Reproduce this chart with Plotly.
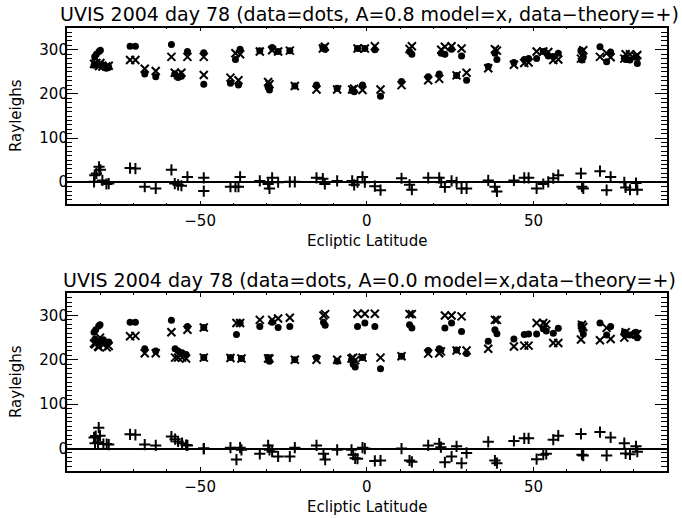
import plotly.graph_objects as go

W, H = 682, 518

# ---- top panel: A = 0.8 ----
lat_a = [-81.6, -81.1, -80.3, -79.9, -81.8, -79.3, -78.1, -77.4, -71.0, -69.4,
         -66.6, -63.3, -58.6, -57.6, -56.6, -55.6, -53.8, -48.9, -48.9, -40.9,
         -39.4, -38.5, -38.0, -32.1, -29.6, -29.2, -28.4, -26.6, -23.1, -21.6,
         -15.1, -13.2, -12.6, -8.9, -4.4, -3.8, -2.8, -1.3, -0.6, 2.4,
         4.1, 10.4, 12.8, 13.5, 18.4, 21.7, 22.3, 23.4, 25.4, 26.9,
         28.4, 29.9, 36.4, 38.4, 39.0, 44.1, 47.2, 48.5, 50.9, 52.9,
         54.4, 55.9, 57.4, 64.2, 64.5, 64.9, 69.9, 71.9, 73.1, 77.2,
         77.6, 78.9, 80.7, 81.1]
data_a = [284, 290, 296, 299, 265, 266, 258, 261, 308, 308,
          245, 239, 312, 245, 237, 240, 296, 293, 222, 224,
          278, 220, 301, 298, 215, 209, 305, 296, 298, 218,
          220, 306, 301, 213, 208, 205, 303, 220, 303, 300,
          195, 228, 296, 290, 239, 245, 292, 290, 301, 242,
          286, 231, 262, 292, 278, 271, 278, 280, 280, 296,
          286, 285, 292, 299, 277, 285, 307, 273, 295, 280,
          278, 277, 283, 269]
model_a = [268, 270, 263, 270, 268, 262, 262, 264, 277, 277,
           257, 252, 284, 248, 243, 248, 284, 284, 243, 237,
           292, 231, 290, 296, 227, 222, 299, 296, 298, 218,
           210, 303, 307, 210, 210, 212, 303, 209, 303, 308,
           210, 220, 302, 308, 231, 234, 300, 307, 308, 242,
           303, 248, 258, 301, 298, 266, 270, 271, 296, 296,
           295, 277, 278, 280, 287, 299, 284, 292, 283, 280,
           290, 290, 285, 288]
resid_a = [16, 20, 35, 28, 1, 4, -4, -3, 32, 31,
           -10, -14, 28, -3, -6, -8, 12, 10, -20, -10,
           -10, -10, 12, 3, -4, -14, 10, 0, 1, 1,
           10, 8, -4, 3, 3, -6, 0, 12, 0, -9,
           -18, 9, -6, -17, 10, 10, 0, -11, 3, 0,
           -14, -14, 4, -10, -21, 4, 10, 10, -14, -4,
           1, 9, 16, 20, -10, -14, 25, -18, 12, 0,
           -12, -17, -2, -17]

# ---- bottom panel: A = 0.0 ----
lat_b = [-81.8, -81.3, -80.4, -80.0, -81.5, -80.6, -79.0, -78.0, -77.4, -71.0,
         -69.4, -66.6, -63.3, -58.6, -57.5, -56.6, -55.4, -54.2, -53.8, -48.9,
         -48.9, -40.9, -39.1, -38.0, -37.6, -32.1, -29.6, -29.2, -28.4, -26.6,
         -23.1, -21.6, -15.1, -13.0, -12.5, -8.9, -4.6, -4.1, -3.5, -2.8,
         -1.3, -0.6, 2.4, 4.1, 10.4, 12.8, 13.5, 18.4, 21.7, 22.2,
         23.4, 25.4, 26.9, 28.4, 29.9, 36.4, 38.4, 39.0, 44.1, 47.2,
         48.5, 50.9, 52.9, 53.8, 55.9, 57.4, 64.2, 64.5, 64.9, 69.9,
         71.9, 73.1, 77.2, 77.6, 78.9, 80.7, 81.1]
data_b = [262, 268, 276, 279, 247, 242, 245, 238, 240, 285,
          285, 225, 220, 289, 225, 220, 216, 212, 275, 273,
          205, 205, 257, 283, 203, 275, 205, 197, 285, 273,
          275, 200, 205, 285, 278, 197, 200, 190, 184, 275,
          205, 283, 275, 180, 208, 279, 272, 221, 225, 222,
          272, 283, 222, 264, 214, 242, 268, 259, 247, 257,
          258, 258, 270, 265, 260, 271, 279, 268, 258, 283,
          256, 275, 262, 258, 256, 262, 250]
model_b = [237, 240, 229, 250, 235, 230, 234, 228, 231, 253,
           254, 215, 215, 262, 205, 205, 205, 203, 268, 273,
           205, 204, 283, 283, 203, 290, 203, 203, 290, 293,
           295, 200, 200, 300, 303, 200, 203, 205, 199, 304,
           205, 304, 304, 205, 208, 303, 303, 214, 215, 219,
           300, 300, 221, 298, 221, 225, 290, 290, 230, 232,
           232, 283, 283, 280, 238, 238, 246, 279, 274, 244,
           272, 247, 250, 262, 258, 257, 258]
resid_b = [25, 28, 47, 29, 12, 14, 10, 10, 9, 32,
           31, 9, 7, 27, 21, 16, 12, 8, 7, 0,
           0, 2, -25, 2, -3, -12, 7, -3, -7, -18,
           -18, 2, 7, -12, -25, -3, -3, -14, -22, -23,
           2, 0, -28, -27, 0, -27, -30, 7, 11, 3,
           -31, -18, 5, -33, -10, 15, -27, -33, 17, 23,
           23, -24, -14, -12, 20, 29, 33, -14, -16, 37,
           -16, 25, 12, -11, -13, 5, -7]

title_a = "UVIS 2004 day 78 (data=dots, A=0.8 model=x, data\u2212theory=+)"
title_b = "UVIS 2004 day 78 (data=dots, A=0.0 model=x,data\u2212theory=+)"
xlabel = "Ecliptic Latitude"
ylabel = "Rayleighs"

FONT = "DejaVu Sans"

def px_x(p):
    return p / W

def px_y(p):
    return (H - p) / H

fig = go.Figure()

def add_panel(lat, data, model, resid, xa, ya):
    fig.add_trace(go.Scatter(x=lat, y=data, mode="markers", xaxis=xa, yaxis=ya,
                             marker=dict(symbol="circle", size=7, color="black"),
                             showlegend=False))
    fig.add_trace(go.Scatter(x=lat, y=model, mode="markers", xaxis=xa, yaxis=ya,
                             marker=dict(symbol="x-thin", size=8, color="black",
                                         line=dict(width=2, color="black")),
                             showlegend=False))
    fig.add_trace(go.Scatter(x=lat, y=resid, mode="markers", xaxis=xa, yaxis=ya,
                             marker=dict(symbol="cross-thin", size=8, color="black",
                                         line=dict(width=2, color="black")),
                             showlegend=False))

add_panel(lat_a, data_a, model_a, resid_a, "x", "y")
add_panel(lat_b, data_b, model_b, resid_b, "x2", "y2")

xdom = [px_x(66.7), px_x(667)]
xcommon = dict(range=[-90, 90], tickmode="linear", tick0=0, dtick=50,
               ticks="inside", ticklen=4, tickwidth=1, tickcolor="black",
               minor=dict(tick0=0, dtick=10, ticks="inside", ticklen=2,
                          tickwidth=1, tickcolor="black", showgrid=False),
               showline=True, linecolor="black", linewidth=1.5, mirror="allticks",
               showgrid=False, zeroline=False, automargin=False,
               ticklabelstandoff=2,
               tickfont=dict(family=FONT, size=15, color="black"), domain=xdom)
ycommon = dict(range=[-50, 350], tickmode="linear", tick0=0, dtick=100,
               ticks="inside", ticklen=12, tickwidth=1, tickcolor="black",
               minor=dict(tick0=0, dtick=10, ticks="inside", ticklen=6,
                          tickwidth=1, tickcolor="black", showgrid=False),
               showline=True, linecolor="black", linewidth=1.5, mirror="allticks",
               showgrid=False, zeroline=True, zerolinecolor="black", zerolinewidth=1.5,
               automargin=False, ticklabelstandoff=-6,
               tickfont=dict(family=FONT, size=15, color="black"))

fig.update_layout(
    width=W, height=H, margin=dict(l=0, r=0, t=0, b=0),
    paper_bgcolor="white", plot_bgcolor="white", template="none",
    xaxis=dict(xcommon, anchor="y"),
    yaxis=dict(ycommon, anchor="x", domain=[px_y(204.3), px_y(27.7)]),
    xaxis2=dict(xcommon, anchor="y2"),
    yaxis2=dict(ycommon, anchor="x2", domain=[px_y(470.7), px_y(293.3)]),
)

cx = (66.7 + 667) / 2
ann = []
for title, ty, xly, yc in [(title_a, 14, 241, (27.7 + 204.3) / 2),
                           (title_b, 280, 507, (293.3 + 470.7) / 2)]:
    ann.append(dict(text=title, x=px_x(cx + 3), y=px_y(ty), xref="paper", yref="paper",
                    xanchor="center", yanchor="middle", showarrow=False,
                    font=dict(family=FONT, size=19, color="black")))
    ann.append(dict(text=xlabel, x=px_x(cx), y=px_y(xly), xref="paper", yref="paper",
                    xanchor="center", yanchor="middle", showarrow=False,
                    font=dict(family=FONT, size=15, color="black")))
    ann.append(dict(text=ylabel, x=px_x(16), y=px_y(yc), xref="paper", yref="paper",
                    xanchor="center", yanchor="middle", showarrow=False, textangle=-90,
                    font=dict(family=FONT, size=15, color="black")))
fig.update_layout(annotations=ann)

fig.write_html("out.html", config={"displayModeBar": False},
               post_script="document.body.style.margin='0';document.body.style.overflow='hidden';")
